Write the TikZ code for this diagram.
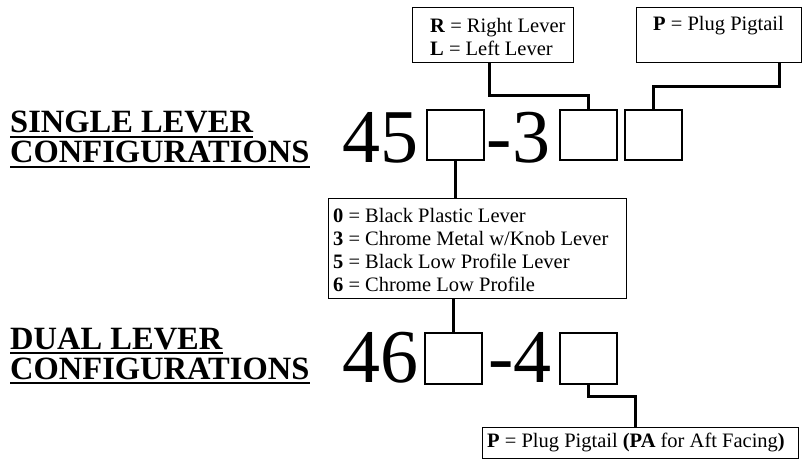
\documentclass[tikz,border=0pt]{standalone}
\usepackage{fontspec}
\setmainfont{Liberation Serif}
\begin{document}
\begin{tikzpicture}[x=1pt,y=-1pt,
  sq/.style={draw, line width=2pt, minimum width=57pt, minimum height=50pt, inner sep=0pt},
  info/.style={draw, line width=1.2pt, inner sep=0pt, anchor=north west},
  conn/.style={line width=3pt},
  uline/.style={line width=1.5pt},
  big/.style={inner sep=0pt, anchor=base, font=\fontsize{76}{76}\selectfont},
  ttl/.style={inner sep=0pt, anchor=base west, font=\fontsize{32.5}{32.5}\selectfont\bfseries},
  small/.style={inner sep=0pt, anchor=west, font=\fontsize{20.5}{22.7}\selectfont, align=left}]
\useasboundingbox (0,0) rectangle (804,465);
% titles
\node[ttl] (s1) at (10,133) {SINGLE LEVER};
\node[ttl] (s2) at (10,163) {CONFIGURATIONS};
\node[ttl] (d1) at (10,349) {DUAL LEVER};
\node[ttl] (d2) at (10,379) {CONFIGURATIONS};
\foreach \n in {s1,s2,d1,d2}
  \draw[uline] ([yshift=-4pt]\n.base west) -- ([yshift=-4pt]\n.base east);
% part number row 1
\node[big] (n45) at (380,163) {45};
\node[sq] (b1) at (455,135.5) {};
\node[big] (n3) at (518.5,163) {-3};
\node[sq] (b2) at (588.5,135.5) {};
\node[sq] (b3) at (653,135.5) {};
% part number row 2
\node[big] (n46) at (380.5,382) {46};
\node[sq] (c1) at (453,358.5) {};
\node[big] (n4) at (520,382) {-4};
\node[sq] (c2) at (588,358.5) {};
% info boxes
\node[info, minimum width=161pt, minimum height=55pt] (rl) at (412,7) {};
\node[small] (rlt) at (430,37) {\textbf{R} = Right Lever\\\textbf{L} = Left Lever};
\node[info, minimum width=165pt, minimum height=55pt] (pb) at (636,7) {};
\node[small] (pbt) at (653,26) {\textbf{P} = Plug Pigtail};
\node[info, minimum width=298pt, minimum height=100pt] (opts) at (328,198) {};
\node[small] (optst) at (333,250) {\textbf{0} = Black Plastic Lever\\\textbf{3} = Chrome Metal w/Knob Lever\\\textbf{5} = Black Low Profile Lever\\\textbf{6} = Chrome Low Profile};
\node[info, minimum width=316pt, minimum height=31pt] (pa) at (482,427) {};
\node[small] (pat) at (487,442.5) {\textbf{P} = Plug Pigtail \textbf{(PA} for Aft Facing\textbf{)}};
% connectors
\draw[conn] ([xshift=-3.5pt]rl.south) |- ([yshift=14pt]b2.north) -- (b2.north);
\draw[conn] ([xshift=60.5pt]pb.south) |- ([yshift=23pt]b3.north) -- (b3.north);
\draw[conn] (b1.south) -- (b1.south |- opts.north);
\draw[conn] (opts.south -| c1.north) -- (c1.north);
\draw[conn] (c2.south) -- ++(0,12) -| ([xshift=-5pt]pa.north);
\end{tikzpicture}
\end{document}
